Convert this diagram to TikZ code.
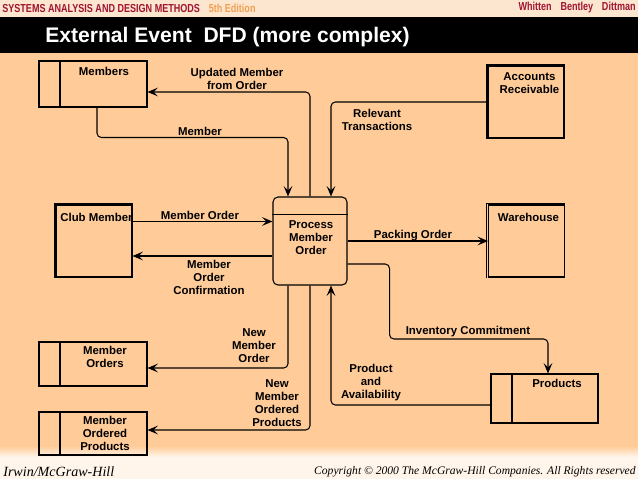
\documentclass[tikz,border=0pt]{standalone}
\usepackage{fontspec}
\setmainfont{Liberation Sans}
\newfontfamily\footfont{Liberation Serif}
\newfontfamily\headfont[FakeStretch=0.78]{Liberation Sans}
\usetikzlibrary{arrows.meta}
\definecolor{peach}{RGB}{255,204,153}
\definecolor{headband}{RGB}{252,230,208}
\definecolor{paleband}{RGB}{255,245,235}
\definecolor{maroon}{RGB}{160,20,50}
\definecolor{edition}{RGB}{240,160,80}

\begin{document}
\begin{tikzpicture}[x=0.02cm,y=-0.02cm,
    lbl/.style={font=\bfseries\fontsize{6.5}{7.4}\selectfont,align=center,inner sep=0pt},
    flow/.style={line width=0.6pt,rounded corners=2.5pt,-{Stealth[length=6pt,width=5pt,inset=2.5pt]}},
    store/.style={draw,line width=0.6pt,minimum width=2.16cm,inner sep=0pt,
      path picture={\draw[line width=0.6pt] ([xshift=0.42cm]path picture bounding box.north west) -- ([xshift=0.42cm]path picture bounding box.south west);}},
    entity/.style={draw,line width=0.6pt,minimum width=1.52cm,minimum height=1.44cm,inner sep=0pt},
    process/.style={draw,line width=0.6pt,rounded corners=2.8pt,minimum width=1.48cm,minimum height=1.76cm,inner sep=0pt}]
				\useasboundingbox (0,0) rectangle (638,479);
				% slide background
				\fill[peach] (0,0) rectangle (638,479);
				\fill[headband] (0,0) rectangle (638,17);
				\fill[black] (0,17) rectangle (638,53);
				\shade[top color=peach,bottom color=paleband] (0,446) rectangle (638,457);
				\fill[paleband] (0,457) rectangle (638,479);
				\node[anchor=west,inner sep=0pt,font=\headfont\bfseries\fontsize{6.6}{7}\selectfont] (hd-l) at (2,8) {\textcolor{maroon}{SYSTEMS ANALYSIS AND DESIGN METHODS}\hspace{5pt}\textcolor{edition}{5th Edition}};
				\node[anchor=east,inner sep=0pt,font=\headfont\bfseries\fontsize{6.6}{7}\selectfont,text=maroon] (hd-r) at (636,8) {Whitten\hspace{5pt}Bentley\hspace{5pt}Dittman};
				\node[anchor=west,inner sep=0pt,text=white,font=\bfseries\fontsize{12}{14}\selectfont] (title) at (45,37) {External Event\ \ DFD (more complex)};
				\node[anchor=west,inner sep=0pt,font=\footfont\itshape\fontsize{8}{9}\selectfont] (ft-l) at (3,472) {Irwin/McGraw-Hill};
				\node[anchor=east,inner sep=0pt,font=\footfont\itshape\fontsize{6.6}{8}\selectfont] (ft-r) at (636,472) {Copyright © 2000 The McGraw-Hill Companies. All Rights reserved};
				% data stores
				\node[store,minimum height=0.92cm] (mem) at (93,84) {};
				\node[store,minimum height=0.88cm] (mo) at (93,364) {};
				\node[store,minimum height=0.86cm] (mop) at (93,433.5) {};
				\node[store,minimum width=2.14cm,minimum height=0.98cm] (prod) at (544.5,398.5) {};
				\node[lbl] (mem-t) at (104,71) {Members};
				\node[lbl] (mo-t) at (105,356.5) {Member\\Orders};
				\node[lbl] (mop-t) at (105,433.5) {Member\\Ordered\\Products};
				\node[lbl] (prod-t) at (557,383.5) {Products};
				% external agents
				\node[entity] (ar) at (526,102) {};
				\node[entity] (cm) at (94,241) {};
				\node[entity] (wh) at (526.5,241) {};
				\foreach \e in {ar,cm,wh}
					\draw[line width=0.5pt] ([xshift=-0.8pt]\e.south west) |- ([yshift=0.8pt]\e.north east);
				\node[lbl] (ar-t) at (529.5,83.5) {Accounts\\Receivable};
				\node[lbl] (cm-t) at (96.5,217) {Club Member};
				\node[lbl] (wh-t) at (528.5,217) {Warehouse};
				% process
				\node[process] (pmo) at (310,241) {};
				\draw[line width=0.6pt] ([yshift=-0.36cm]pmo.north west) -- ([yshift=-0.36cm]pmo.north east);
				\node[lbl] (pmo-t) at (311,238) {Process\\Member\\Order};
				% data flows
				\draw[flow] (pmo.north) |- ([yshift=-0.16cm]mem.east);
				\draw[flow] ([xshift=0.08cm]mem.south) -- ++(0,30) -| ([xshift=-0.44cm]pmo.north);
				\draw[flow] (ar.west) -| ([xshift=0.42cm]pmo.north);
				\draw[flow] ([yshift=0.39cm]cm.east) -- ([yshift=0.39cm]pmo.west);
				\draw[flow] ([yshift=-0.3cm]pmo.west) -- ([yshift=-0.3cm]cm.east);
				\draw[flow] (pmo.east) -- (wh.west);
				\draw[flow] ([yshift=-0.46cm]pmo.east) -- ++(42,0) -- ++(0,75) -| ([xshift=0.07cm]prod.north);
				\draw[flow] ([yshift=-0.13cm]prod.west) -| ([xshift=0.42cm]pmo.south);
				\draw[flow] ([xshift=-0.44cm]pmo.south) |- ([yshift=-0.08cm]mo.east);
				\draw[flow] (pmo.south) |- ([yshift=0.07cm]mop.east);
				\node[lbl] (f-upd) at (237,78.5) {Updated Member\\from Order};
				\node[lbl] (f-mem) at (200,131) {Member};
				\node[lbl] (f-rel) at (377,119.5) {Relevant\\Transactions};
				\node[lbl] (f-mord) at (200,215) {Member Order};
				\node[lbl] (f-conf) at (209,277) {Member\\Order\\Confirmation};
				\node[lbl] (f-pack) at (413,236) {Packing Order};
				\node[lbl] (f-inv) at (468,332) {Inventory Commitment};
				\node[lbl] (f-pa) at (371,383) {Product\\and\\Availability};
				\node[lbl] (f-nmo) at (254,345.5) {New\\Member\\Order};
				\node[lbl] (f-nmop) at (277,403) {New\\Member\\Ordered\\Products};
			\end{tikzpicture}
\end{document}
